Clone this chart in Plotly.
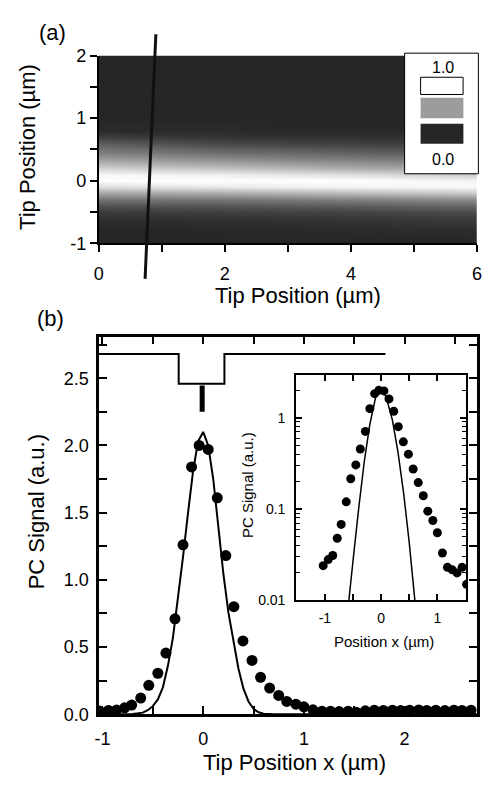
import plotly.graph_objects as go

W, H = 487, 791
FONT = "Liberation Sans, Arial, Helvetica, sans-serif"

# ---------------- panel (a) data: normalized PC map ----------------
map_x = [0.0, 2.0, 4.0, 6.0]
map_y = [-1.0, -0.8, -0.6, -0.5, -0.4, -0.3, -0.2, -0.1, 0.0, 0.1,
         0.2, 0.3, 0.4, 0.5, 0.6, 0.7, 0.8, 1.0, 1.5, 2.0]
map_col_x0 = [0.0, 0.0, 0.04, 0.10, 0.20, 0.35, 0.55, 0.85, 1.00, 0.97,
              0.80, 0.60, 0.45, 0.35, 0.25, 0.10, 0.02, 0.0, 0.0, 0.0]
map_col_x2 = [0.0, 0.01, 0.05, 0.12, 0.22, 0.36, 0.58, 0.90, 1.00, 0.92,
              0.72, 0.52, 0.38, 0.27, 0.15, 0.06, 0.02, 0.0, 0.0, 0.0]
map_col_x4 = [0.0, 0.02, 0.07, 0.14, 0.25, 0.40, 0.65, 0.95, 1.00, 0.85,
              0.62, 0.45, 0.32, 0.22, 0.12, 0.05, 0.01, 0.0, 0.0, 0.0]
map_col_x6 = [0.0, 0.03, 0.10, 0.18, 0.30, 0.45, 0.72, 0.98, 0.95, 0.75,
              0.55, 0.40, 0.28, 0.18, 0.10, 0.04, 0.01, 0.0, 0.0, 0.0]
cut_x = [0.906, 0.735]
cut_y = [2.34, -1.57]

# ---------------- panel (b) data ----------------
dot_x = [-1.03, -0.94, -0.86, -0.78, -0.71, -0.62, -0.54, -0.45, -0.37, -0.28,
         -0.20, -0.115, -0.04, 0.05, 0.14, 0.225, 0.305, 0.395, 0.485, 0.57,
         0.66, 0.75, 0.83, 0.92, 1.00, 1.09, 1.18, 1.265, 1.35, 1.44,
         1.52, 1.61, 1.70, 1.79, 1.88, 1.96, 2.05, 2.14, 2.22, 2.31,
         2.40, 2.49, 2.57, 2.66]
dot_y = [0.024, 0.028, 0.031, 0.048, 0.068, 0.12, 0.215, 0.305, 0.455, 0.71,
         1.26, 1.84, 2.00, 1.97, 1.61, 1.18, 0.80, 0.545, 0.40, 0.275,
         0.195, 0.14, 0.095, 0.075, 0.055, 0.033, 0.023, 0.0216, 0.020, 0.023,
         0.015, 0.025, 0.030, 0.028, 0.030, 0.027, 0.030, 0.032, 0.028, 0.030,
         0.027, 0.030, 0.028, 0.030]

fit_x = [-1.034, -0.80, -0.70, -0.60, -0.55, -0.50, -0.45, -0.40, -0.35, -0.30,
         -0.25, -0.20, -0.15, -0.10, -0.05, 0.0, 0.05, 0.10, 0.15, 0.20,
         0.25, 0.30, 0.35, 0.40, 0.45, 0.50, 0.55, 0.60, 0.70, 2.72]
fit_y = [0.0, 0.0, 0.002, 0.012, 0.03, 0.06, 0.11, 0.20, 0.36, 0.57,
         0.85, 1.17, 1.50, 1.81, 2.03, 2.10, 2.00, 1.75, 1.40, 1.05,
         0.76, 0.54, 0.34, 0.19, 0.095, 0.04, 0.015, 0.004, 0.0, 0.0]

step_x = [-1.034, -0.243, -0.243, 0.211, 0.211, 1.81]
step_y = [2.68, 2.68, 2.458, 2.458, 2.68, 2.68]
bar_x = [-0.01, -0.01]
bar_y = [2.25, 2.446]

inset_fit_x = [-0.60, -0.57, -0.5, -0.4, -0.3, -0.2, -0.1, -0.03, 0.0, 0.03,
               0.1, 0.2, 0.3, 0.4, 0.5, 0.6, 0.63]
inset_fit_y = [0.007, 0.01, 0.027, 0.1, 0.33, 0.85, 1.65, 2.02, 2.1, 2.02,
               1.6, 0.95, 0.42, 0.15, 0.043, 0.01, 0.007]

# tick labels
a_xticks = [0, 2, 4, 6]
a_yticks = [-1, 0, 1, 2]
b_xticks = [-1, 0, 1, 2]
b_xticktext = ["-1", "0", "1", "2"]
b_yticks = [0.0, 0.5, 1.0, 1.5, 2.0, 2.5]
b_yticktext = ["0.0", "0.5", "1.0", "1.5", "2.0", "2.5"]
c_xticks = [-1, 0, 1]
c_xticktext = ["-1", "0", "1"]
c_yticks = [0.01, 0.1, 1]
c_yticktext = ["0.01", "0.1", "1"]


def px(x):
    return x / W


def py(y):
    return 1 - y / H


z = [[map_col_x0[i], map_col_x2[i], map_col_x4[i], map_col_x6[i]] for i in range(len(map_y))]

fig = go.Figure()
fig.add_trace(go.Heatmap(
    x=map_x, y=map_y, z=z, zmin=0, zmax=1, zsmooth="best", showscale=False,
    colorscale=[[0, "#262626"], [0.5, "#969696"], [1, "#ffffff"]],
    xaxis="x", yaxis="y", hoverinfo="skip"))

fig.add_trace(go.Scatter(x=fit_x, y=fit_y, mode="lines", line=dict(color="black", width=2),
                         xaxis="x2", yaxis="y2"))
fig.add_trace(go.Scatter(x=dot_x, y=dot_y, mode="markers",
                         marker=dict(color="black", size=11),
                         xaxis="x2", yaxis="y2"))
fig.add_trace(go.Scatter(x=step_x, y=step_y, mode="lines", line=dict(color="black", width=2),
                         xaxis="x2", yaxis="y2"))
fig.add_trace(go.Scatter(x=bar_x, y=bar_y, mode="lines", line=dict(color="black", width=5),
                         xaxis="x2", yaxis="y2"))

fig.add_trace(go.Scatter(x=inset_fit_x, y=inset_fit_y, mode="lines",
                         line=dict(color="black", width=1.5), xaxis="x3", yaxis="y3"))
fig.add_trace(go.Scatter(x=dot_x, y=dot_y, mode="markers",
                         marker=dict(color="black", size=9), xaxis="x3", yaxis="y3"))

tickfont = dict(family=FONT, size=18, color="black")
small_tickfont = dict(family=FONT, size=14, color="black")

a_yrange = [-1, 2]

fig.update_layout(
    width=W, height=H, margin=dict(l=0, r=0, t=0, b=0),
    paper_bgcolor="white", plot_bgcolor="white", showlegend=False,
    font=dict(family=FONT, color="black"),
    xaxis=dict(domain=[px(95.7), px(482)], range=[0, 6], anchor="y",
               tickvals=a_xticks, ticks="outside", ticklen=7, tickwidth=1.5,
               tickcolor="black", showline=True, linewidth=1.5, linecolor="black",
               showgrid=False, zeroline=False, tickfont=tickfont, ticklabelstandoff=6,
               ticklabeloverflow="allow",
               minor=dict(tickvals=[1, 3, 5], ticks="outside", ticklen=7, tickwidth=1.5,
                          tickcolor="black", showgrid=False)),
    yaxis=dict(domain=[py(239.3), py(46.7)], range=a_yrange, anchor="x",
               tickvals=a_yticks, ticktext=["-1", "0", "1", "2"],
               ticks="outside", ticklen=7, tickwidth=1.5,
               tickcolor="black", showline=True, linewidth=1.5, linecolor="black",
               showgrid=False, zeroline=False, tickfont=tickfont,
               minor=dict(tickvals=[-0.5, 0.5, 1.5], ticks="outside", ticklen=7,
                          tickwidth=1.5, tickcolor="black", showgrid=False)),
    xaxis2=dict(domain=[px(96), px(482)], range=[-1.034, 2.72], anchor="y2",
                tickvals=b_xticks, ticktext=b_xticktext, ticks="inside", ticklen=8,
                tickwidth=2, tickcolor="black", mirror="allticks", showline=True,
                linewidth=2.5, linecolor="black", showgrid=False, zeroline=False,
                tickfont=tickfont, ticklabelstandoff=6,
                minor=dict(tickvals=[-0.5, 0.5, 1.5, 2.5], ticks="inside", ticklen=8,
                           tickwidth=2, tickcolor="black", showgrid=False)),
    yaxis2=dict(domain=[py(722.5), py(335)], range=[0, 2.81], anchor="x2",
                tickvals=b_yticks, ticktext=b_yticktext, ticks="inside", ticklen=8,
                tickwidth=2, tickcolor="black", mirror="allticks", showline=True,
                linewidth=2.5, linecolor="black", showgrid=False, zeroline=False,
                tickfont=tickfont, ticklabelstandoff=4,
                minor=dict(tickvals=[0.25, 0.75, 1.25, 1.75, 2.25, 2.75], ticks="inside",
                           ticklen=8, tickwidth=2, tickcolor="black", showgrid=False)),
    xaxis3=dict(domain=[px(297.3), px(470.7)], range=[-1.51, 1.51], anchor="y3",
                tickvals=c_xticks, ticktext=c_xticktext, ticks="inside", ticklen=6,
                tickwidth=1.5, tickcolor="black", mirror="allticks", showline=True,
                linewidth=2, linecolor="black", showgrid=False, zeroline=False,
                tickfont=small_tickfont, ticklabelstandoff=4,
                minor=dict(tickvals=[-0.5, 0.5], ticks="inside", ticklen=6,
                           tickwidth=1.5, tickcolor="black", showgrid=False)),
    yaxis3=dict(domain=[py(605.7), py(374)], type="log", range=[-2, 0.474], anchor="x3",
                tickvals=c_yticks, ticktext=c_yticktext, ticks="inside", ticklen=6,
                tickwidth=1.5, tickcolor="black", mirror="allticks", showline=True,
                linewidth=2, linecolor="black", showgrid=False, zeroline=False,
                tickfont=small_tickfont, ticklabelstandoff=6,
                minor=dict(tickvals=[0.02, 0.03, 0.04, 0.05, 0.06, 0.07, 0.08, 0.09,
                                     0.2, 0.3, 0.4, 0.5, 0.6, 0.7, 0.8, 0.9, 2],
                           ticks="inside", ticklen=4, tickwidth=1.2, tickcolor="black",
                           showgrid=False)),
)

# cut line in panel (a) (x in data, y as fraction of the y-axis domain)
fy = [(v - a_yrange[0]) / (a_yrange[1] - a_yrange[0]) for v in cut_y]
fig.add_shape(type="line", xref="x", yref="y domain", x0=cut_x[0], x1=cut_x[1],
              y0=fy[0], y1=fy[1], line=dict(color="#111111", width=3), layer="above")

# grey-scale key of panel (a)
fig.add_shape(type="rect", xref="paper", yref="paper", x0=px(408), x1=px(483.3),
              y0=py(168), y1=py(44.3), fillcolor="white", line=dict(color="black", width=1))
fig.add_shape(type="rect", xref="paper", yref="paper", x0=px(424.3), x1=px(467.7),
              y0=py(86.7), y1=py(69), fillcolor="white", line=dict(color="black", width=1))
fig.add_shape(type="rect", xref="paper", yref="paper", x0=px(424.3), x1=px(468),
              y0=py(111), y1=py(90), fillcolor="#9c9c9c", line=dict(width=0))
fig.add_shape(type="rect", xref="paper", yref="paper", x0=px(424.3), x1=px(468),
              y0=py(137.3), y1=py(116.7), fillcolor="#262626", line=dict(width=0))


def ann(text, x, y, size, angle=0):
    fig.add_annotation(text=text, xref="paper", yref="paper", x=px(x), y=py(y),
                       showarrow=False, xanchor="center", yanchor="middle",
                       textangle=angle, font=dict(family=FONT, size=size, color="black"))


ann("1.0", 446.7, 58.5, 16)
ann("0.0", 446.7, 153.3, 16)
ann("(a)", 48, 23, 22)
ann("(b)", 46, 317, 22)
ann("Tip Position (µm)", 23, 141, 22, -90)
ann("Tip Position (µm)", 299, 293, 22)
ann("PC Signal (a.u.)", 33, 515, 22, -90)
ann("Tip Position x (µm)", 296, 771.7, 22)
ann("PC Signal (a.u.)", 247, 487.5, 15, -90)
ann("Position x (µm)", 386.5, 648, 15)

fig.write_html(
    "out.html",
    config={"displayModeBar": False},
    post_script=(
        "document.documentElement.style.margin='0px';"
        "document.body.style.margin='0px';document.body.style.padding='0px';"
        "document.body.style.overflow='hidden';"
        "var d=document.getElementById('{plot_id}');"
        "d.style.position='fixed';d.style.left='0px';d.style.top='0px';"
    ),
)
